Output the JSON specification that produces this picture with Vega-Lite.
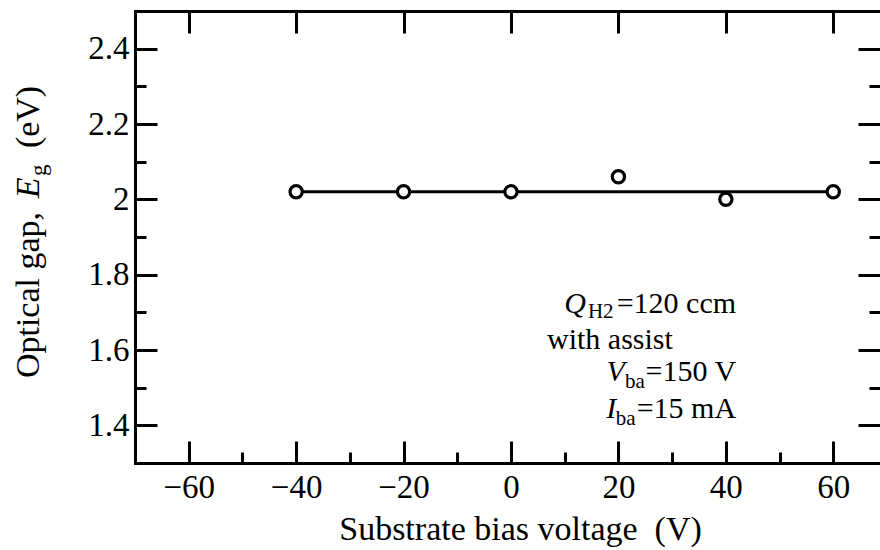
{
  "$schema": "https://vega.github.io/schema/vega-lite/v6.json",
  "width": 745,
  "height": 452,
  "autosize": "none",
  "padding": {"left": 135, "top": 11, "right": 0, "bottom": 87},
  "background": "white",
  "config": {
    "view": {"stroke": null},
    "font": "Liberation Serif",
    "axis": {
      "labelFont": "Liberation Serif",
      "labelFontSize": 33,
      "labelColor": "black",
      "titleFont": "Liberation Serif",
      "titleFontSize": 34,
      "titleFontWeight": "normal",
      "titleColor": "black",
      "domainColor": "black",
      "domainWidth": 3,
      "domainCap": "square",
      "tickColor": "black",
      "tickWidth": 3,
      "grid": false,
      "labelFlush": false,
      "labelOverlap": false
    }
  },
  "datasets": {
    "gap": [
      {"bias": -40, "gap": 2.02},
      {"bias": -20, "gap": 2.02},
      {"bias": 0, "gap": 2.02},
      {"bias": 20, "gap": 2.06},
      {"bias": 40, "gap": 2.0},
      {"bias": 60, "gap": 2.02}
    ],
    "fit": [
      {"bias": -40, "gap": 2.02},
      {"bias": 60, "gap": 2.02}
    ]
  },
  "layer": [
    {
      "data": {"name": "fit"},
      "mark": {"type": "line", "color": "black", "strokeWidth": 3},
      "encoding": {
        "x": {"field": "bias", "type": "quantitative",
          "scale": {"domain": [-70, 68.7], "nice": false, "zero": false},
          "axis": {"orient": "bottom", "values": [-60, -40, -20, 0, 20, 40, 60], "format": "d",
            "ticks": false, "domain": true, "labelPadding": 8,
            "title": "Substrate bias voltage\u00a0\u00a0(V)", "titlePadding": 8, "titleX": 385}},
        "y": {"field": "gap", "type": "quantitative",
          "scale": {"domain": [1.3, 2.5], "nice": false, "zero": false},
          "axis": {"orient": "left", "values": [1.4, 1.6, 1.8, 2, 2.2, 2.4], "format": "~g",
            "ticks": false, "domain": true, "labelPadding": 6, "title": null}}
      }
    },
    {
      "data": {"name": "gap"},
      "mark": {"type": "point", "shape": "circle", "filled": true, "fill": "white", "stroke": "black", "strokeWidth": 3.2, "size": 150, "opacity": 1},
      "encoding": {
        "x": {"field": "bias", "type": "quantitative",
          "scale": {"domain": [-70, 68.7], "nice": false, "zero": false},
          "axis": {"orient": "bottom", "values": [-60, -40, -20, 0, 20, 40, 60],
            "labels": false, "domain": false, "tickSize": -22, "title": null}},
        "y": {"field": "gap", "type": "quantitative",
          "scale": {"domain": [1.3, 2.5], "nice": false, "zero": false},
          "axis": {"orient": "left", "values": [1.4, 1.6, 1.8, 2, 2.2, 2.4],
            "labels": false, "domain": false, "tickSize": -22, "title": null}}
      }
    },
    {
      "data": {"name": "gap"},
      "mark": {"type": "point", "opacity": 0},
      "encoding": {
        "x": {"field": "bias", "type": "quantitative",
          "scale": {"domain": [-70, 68.7], "nice": false, "zero": false},
          "axis": {"orient": "bottom", "values": [-50, -30, -10, 10, 30, 50],
            "labels": false, "domain": false, "tickSize": -11, "title": null}},
        "y": {"field": "gap", "type": "quantitative",
          "scale": {"domain": [1.3, 2.5], "nice": false, "zero": false},
          "axis": {"orient": "left", "values": [1.5, 1.7, 1.9, 2.1, 2.3],
            "labels": false, "domain": false, "tickSize": -11, "title": null}}
      }
    },
    {
      "data": {"name": "gap"},
      "mark": {"type": "point", "opacity": 0},
      "encoding": {
        "x": {"field": "bias", "type": "quantitative",
          "scale": {"domain": [-70, 68.7], "nice": false, "zero": false},
          "axis": {"orient": "top", "values": [-60, -40, -20, 0, 20, 40, 60],
            "labels": false, "domain": true, "tickSize": -22, "title": null}},
        "y": {"field": "gap", "type": "quantitative",
          "scale": {"domain": [1.3, 2.5], "nice": false, "zero": false},
          "axis": {"orient": "right", "values": [1.4, 1.6, 1.8, 2, 2.2, 2.4],
            "labels": false, "domain": false, "tickSize": -22, "title": null}}
      }
    },
    {
      "data": {"name": "gap"},
      "mark": {"type": "point", "opacity": 0},
      "encoding": {
        "x": {"field": "bias", "type": "quantitative",
          "scale": {"domain": [-70, 68.7], "nice": false, "zero": false},
          "axis": null},
        "y": {"field": "gap", "type": "quantitative",
          "scale": {"domain": [1.3, 2.5], "nice": false, "zero": false},
          "axis": {"orient": "right", "values": [1.5, 1.7, 1.9, 2.1, 2.3],
            "labels": false, "domain": false, "tickSize": -11, "title": null}}
      }
    },
    {
      "data": {"values": [{"label": "Optical gap,"}]},
      "mark": {"type": "text", "fontSize": 34, "align": "center", "baseline": "alphabetic", "angle": 270, "color": "black"},
      "encoding": {
        "text": {"field": "label"},
        "x": {"datum": -87.9, "type": "quantitative", "scale": {"domain": [-70, 68.7], "nice": false, "zero": false}, "axis": null},
        "y": {"datum": 1.746, "type": "quantitative", "scale": {"domain": [1.3, 2.5], "nice": false, "zero": false}, "axis": null}
      }
    },
    {
      "data": {"values": [{"label": "E"}]},
      "mark": {"type": "text", "fontSize": 34, "fontStyle": "italic", "align": "left", "baseline": "alphabetic", "angle": 270, "color": "black"},
      "encoding": {
        "text": {"field": "label"},
        "x": {"datum": -87.9, "type": "quantitative", "scale": {"domain": [-70, 68.7], "nice": false, "zero": false}, "axis": null},
        "y": {"datum": 2.003, "type": "quantitative", "scale": {"domain": [1.3, 2.5], "nice": false, "zero": false}, "axis": null}
      }
    },
    {
      "data": {"values": [{"label": "g"}]},
      "mark": {"type": "text", "fontSize": 23, "align": "left", "baseline": "alphabetic", "angle": 270, "color": "black"},
      "encoding": {
        "text": {"field": "label"},
        "x": {"datum": -86.6, "type": "quantitative", "scale": {"domain": [-70, 68.7], "nice": false, "zero": false}, "axis": null},
        "y": {"datum": 2.062, "type": "quantitative", "scale": {"domain": [1.3, 2.5], "nice": false, "zero": false}, "axis": null}
      }
    },
    {
      "data": {"values": [{"label": "(eV)"}]},
      "mark": {"type": "text", "fontSize": 34, "align": "left", "baseline": "alphabetic", "angle": 270, "color": "black"},
      "encoding": {
        "text": {"field": "label"},
        "x": {"datum": -87.9, "type": "quantitative", "scale": {"domain": [-70, 68.7], "nice": false, "zero": false}, "axis": null},
        "y": {"datum": 2.136, "type": "quantitative", "scale": {"domain": [1.3, 2.5], "nice": false, "zero": false}, "axis": null}
      }
    },
    {
      "data": {"values": [{"label": "Q"}]},
      "mark": {"type": "text", "fontSize": 30, "fontStyle": "italic", "align": "right", "baseline": "alphabetic", "color": "black"},
      "encoding": {
        "text": {"field": "label"},
        "x": {"datum": 13.95, "type": "quantitative", "scale": {"domain": [-70, 68.7], "nice": false, "zero": false}, "axis": null},
        "y": {"datum": 1.698, "type": "quantitative", "scale": {"domain": [1.3, 2.5], "nice": false, "zero": false}, "axis": null}
      }
    },
    {
      "data": {"values": [{"label": "H2"}]},
      "mark": {"type": "text", "fontSize": 21, "align": "right", "baseline": "alphabetic", "color": "black"},
      "encoding": {
        "text": {"field": "label"},
        "x": {"datum": 19.1, "type": "quantitative", "scale": {"domain": [-70, 68.7], "nice": false, "zero": false}, "axis": null},
        "y": {"datum": 1.686, "type": "quantitative", "scale": {"domain": [1.3, 2.5], "nice": false, "zero": false}, "axis": null}
      }
    },
    {
      "data": {"values": [{"label": "=120 ccm"}]},
      "mark": {"type": "text", "fontSize": 30, "align": "right", "baseline": "alphabetic", "color": "black"},
      "encoding": {
        "text": {"field": "label"},
        "x": {"datum": 41.9, "type": "quantitative", "scale": {"domain": [-70, 68.7], "nice": false, "zero": false}, "axis": null},
        "y": {"datum": 1.698, "type": "quantitative", "scale": {"domain": [1.3, 2.5], "nice": false, "zero": false}, "axis": null}
      }
    },
    {
      "data": {"values": [{"label": "with assist"}]},
      "mark": {"type": "text", "fontSize": 30, "align": "left", "baseline": "alphabetic", "color": "black"},
      "encoding": {
        "text": {"field": "label"},
        "x": {"datum": 6.7, "type": "quantitative", "scale": {"domain": [-70, 68.7], "nice": false, "zero": false}, "axis": null},
        "y": {"datum": 1.603, "type": "quantitative", "scale": {"domain": [1.3, 2.5], "nice": false, "zero": false}, "axis": null}
      }
    },
    {
      "data": {"values": [{"label": "V"}]},
      "mark": {"type": "text", "fontSize": 30, "fontStyle": "italic", "align": "right", "baseline": "alphabetic", "color": "black"},
      "encoding": {
        "text": {"field": "label"},
        "x": {"datum": 21.2, "type": "quantitative", "scale": {"domain": [-70, 68.7], "nice": false, "zero": false}, "axis": null},
        "y": {"datum": 1.518, "type": "quantitative", "scale": {"domain": [1.3, 2.5], "nice": false, "zero": false}, "axis": null}
      }
    },
    {
      "data": {"values": [{"label": "ba"}]},
      "mark": {"type": "text", "fontSize": 21, "align": "right", "baseline": "alphabetic", "color": "black"},
      "encoding": {
        "text": {"field": "label"},
        "x": {"datum": 24.9, "type": "quantitative", "scale": {"domain": [-70, 68.7], "nice": false, "zero": false}, "axis": null},
        "y": {"datum": 1.499, "type": "quantitative", "scale": {"domain": [1.3, 2.5], "nice": false, "zero": false}, "axis": null}
      }
    },
    {
      "data": {"values": [{"label": "=150 V"}]},
      "mark": {"type": "text", "fontSize": 30, "align": "right", "baseline": "alphabetic", "color": "black"},
      "encoding": {
        "text": {"field": "label"},
        "x": {"datum": 41.9, "type": "quantitative", "scale": {"domain": [-70, 68.7], "nice": false, "zero": false}, "axis": null},
        "y": {"datum": 1.518, "type": "quantitative", "scale": {"domain": [1.3, 2.5], "nice": false, "zero": false}, "axis": null}
      }
    },
    {
      "data": {"values": [{"label": "I"}]},
      "mark": {"type": "text", "fontSize": 30, "fontStyle": "italic", "align": "right", "baseline": "alphabetic", "color": "black"},
      "encoding": {
        "text": {"field": "label"},
        "x": {"datum": 19.6, "type": "quantitative", "scale": {"domain": [-70, 68.7], "nice": false, "zero": false}, "axis": null},
        "y": {"datum": 1.4195, "type": "quantitative", "scale": {"domain": [1.3, 2.5], "nice": false, "zero": false}, "axis": null}
      }
    },
    {
      "data": {"values": [{"label": "ba"}]},
      "mark": {"type": "text", "fontSize": 21, "align": "right", "baseline": "alphabetic", "color": "black"},
      "encoding": {
        "text": {"field": "label"},
        "x": {"datum": 23.2, "type": "quantitative", "scale": {"domain": [-70, 68.7], "nice": false, "zero": false}, "axis": null},
        "y": {"datum": 1.4, "type": "quantitative", "scale": {"domain": [1.3, 2.5], "nice": false, "zero": false}, "axis": null}
      }
    },
    {
      "data": {"values": [{"label": "=15 mA"}]},
      "mark": {"type": "text", "fontSize": 30, "align": "right", "baseline": "alphabetic", "color": "black"},
      "encoding": {
        "text": {"field": "label"},
        "x": {"datum": 41.9, "type": "quantitative", "scale": {"domain": [-70, 68.7], "nice": false, "zero": false}, "axis": null},
        "y": {"datum": 1.4195, "type": "quantitative", "scale": {"domain": [1.3, 2.5], "nice": false, "zero": false}, "axis": null}
      }
    }
  ],
  "resolve": {"axis": {"x": "independent", "y": "independent"}}
}
